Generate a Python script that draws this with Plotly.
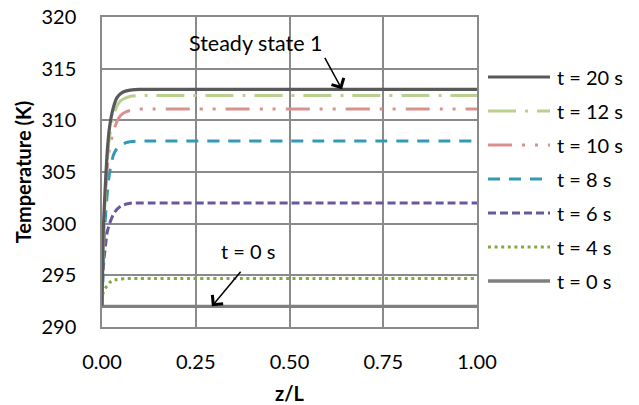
import plotly.graph_objects as go

# Axial positions (dimensionless length z/L)
z = [0.0, 0.003, 0.006, 0.01, 0.014, 0.02, 0.03, 0.04, 0.05, 0.065,
     0.08, 0.10, 0.13, 1.0]

# Temperature profiles (K) at each time
T_20 = [292.0, 299.0, 301.5, 304.5, 307.0, 309.3, 311.2, 312.2, 312.6, 312.85,
        312.95, 313.0, 313.0, 313.0]
T_12 = [292.0, 298.0, 300.6, 303.6, 306.0, 308.4, 310.4, 311.4, 311.9, 312.2,
        312.35, 312.4, 312.4, 312.4]
T_10 = [292.0, 297.5, 300.0, 303.3, 305.4, 307.3, 308.9, 309.9, 310.5, 310.85,
        311.0, 311.1, 311.1, 311.1]
T_8 = [292.0, 296.0, 298.6, 301.1, 302.9, 304.9, 306.6, 307.3, 307.6, 307.85,
       307.95, 308.0, 308.0, 308.0]
T_6 = [292.0, 295.5, 296.8, 298.1, 299.2, 300.0, 300.9, 301.4, 301.7, 301.9,
       302.0, 302.0, 302.0, 302.0]
T_4 = [292.5, 293.3, 293.6, 293.8, 294.0, 294.3, 294.5, 294.6, 294.65, 294.7,
       294.7, 294.7, 294.7, 294.7]
T_0 = [292.0] * len(z)

names = ["t = 20 s", "t = 12 s", "t = 10 s", "t = 8 s", "t = 6 s", "t = 4 s", "t = 0 s"]
profiles = [T_20, T_12, T_10, T_8, T_6, T_4, T_0]
colors = ["#595959", "#b9d090", "#d9918e", "#3399b5", "#6b57a0", "#86a843", "#808080"]
dashes = ["solid", "28px,9px,3px,9px", "24px,10px,3px,10px,3px,10px",
          "12px,9px", "8px,4px", "3px,3.6px", "solid"]
widths = [3.2, 3, 3, 3, 3, 3, 3.4]

x_ticks = [0.0, 0.25, 0.5, 0.75, 1.0]
x_ticktext = ["0.00", "0.25", "0.50", "0.75", "1.00"]
y_ticks = [290, 295, 300, 305, 310, 315, 320]

FONT = "Lato"
fig = go.Figure()

# draw from bottom series up so the hottest profile sits on top
for name, T, c, d, w in reversed(list(zip(names, profiles, colors, dashes, widths))):
    fig.add_trace(go.Scatter(x=z, y=T, mode="lines", name=name, showlegend=False,
                             line=dict(color=c, dash=d, width=w, shape="spline",
                                       smoothing=0.4)))

grid = "#8a8a8a"
fig.update_layout(
    width=639, height=405,
    margin=dict(l=102, r=162, t=17, b=78),
    paper_bgcolor="white", plot_bgcolor="white",
    font=dict(family=FONT, size=20, color="#000000"),
    xaxis=dict(range=[0, 1], tickvals=x_ticks, ticktext=x_ticktext, automargin=False,
               showgrid=True, gridcolor=grid, gridwidth=1.5,
               showline=True, linecolor=grid, linewidth=1.5, mirror=True,
               zeroline=False, ticks="", ticklabelstandoff=16,
               title=dict(text="<b>z/L</b>", font=dict(family=FONT, size=20), standoff=17)),
    yaxis=dict(range=[290, 320], tickvals=y_ticks, automargin=False,
               showgrid=True, gridcolor=grid, gridwidth=1.5,
               showline=True, linecolor=grid, linewidth=1.5, mirror=True,
               zeroline=False, ticks="", ticklabelstandoff=20,
               title=dict(text="<b>Temperature (K)</b>", font=dict(family=FONT, size=20),
                          standoff=4)),
)

# Legend drawn at fixed pixel rows to the right of the plot area
plot_l, plot_r, plot_t, plot_b = 102, 477, 17, 327
def px_x(p):
    return (p - plot_l) / (plot_r - plot_l)
def px_y(p):
    return (plot_b - p) / (plot_b - plot_t)

row0, row_step = 77, 34
for i, (name, c, d, w) in enumerate(zip(names, colors, dashes, widths)):
    yy = px_y(row0 + i * row_step)
    fig.add_shape(type="line", xref="paper", yref="paper",
                  x0=px_x(488), x1=px_x(550), y0=yy, y1=yy,
                  line=dict(color=c, dash=d, width=w))
    fig.add_annotation(xref="paper", yref="paper", x=px_x(555), y=yy,
                       text=name, showarrow=False, xanchor="left", yanchor="middle",
                       font=dict(family=FONT, size=20, color="#000000"))

# Callouts
fig.add_annotation(x=0.41, y=317.5, text="Steady state 1", showarrow=False,
                   font=dict(family=FONT, size=21.5, color="#000000"))
fig.add_annotation(x=0.64, y=313.0, ax=-18, ay=-33, text="", showarrow=True,
                   arrowhead=4, arrowsize=1.8, arrowwidth=1.5, arrowcolor="#000000")
fig.add_annotation(x=0.389, y=297.4, text="t = 0 s", showarrow=False,
                   font=dict(family=FONT, size=20, color="#000000"))
fig.add_annotation(x=0.293, y=292.0, ax=30, ay=-36, text="", showarrow=True,
                   arrowhead=4, arrowsize=1.8, arrowwidth=1.5, arrowcolor="#000000")

fig.write_html("out.html")
